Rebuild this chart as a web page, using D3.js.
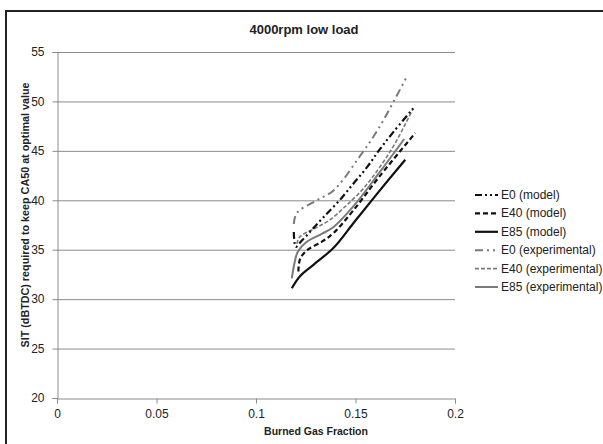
<!DOCTYPE html>
<html>
<head>
<meta charset="utf-8">
<script src="https://cdn.jsdelivr.net/npm/d3@7"></script>
<style>
  body { margin: 0; background: #fff; }
  text { font-family: "Liberation Sans", Arial, sans-serif; }
</style>
</head>
<body>
<div id="chart"></div>
<script>
// data
const seriesNames = ["E0 (model)", "E40 (model)", "E85 (model)", "E0 (experimental)", "E40 (experimental)", "E85 (experimental)"];

const bgfE0Model  = [0.1190, 0.1200, 0.1225, 0.1280, 0.1340, 0.1420, 0.1490, 0.1560, 0.1620, 0.1690, 0.1790];
const sitE0Model  = [36.8,   35.3,   35.8,   37.0,   38.3,   40.0,   41.7,   43.4,   45.1,   46.9,   49.3];

const bgfE40Model = [0.1213, 0.1222, 0.1260, 0.1330, 0.1390, 0.1490, 0.1620, 0.1800];
const sitE40Model = [32.8,   34.1,   35.0,   35.8,   36.7,   39.0,   42.4,   46.8];

const bgfE85Model = [0.1180, 0.1220, 0.1290, 0.1390, 0.1490, 0.1610, 0.1750];
const sitE85Model = [31.1,   32.3,   33.5,   35.2,   37.7,   40.7,   44.1];

const bgfE0Exp    = [0.1190, 0.1205, 0.1305, 0.1390, 0.1520, 0.1620, 0.1760];
const sitE0Exp    = [37.6,   38.7,   40.0,   41.0,   44.4,   47.4,   52.6];

const bgfE40Exp   = [0.1205, 0.1220, 0.1300, 0.1370, 0.1450, 0.1540, 0.1620, 0.1700, 0.1790];
const sitE40Exp   = [35.6,   36.3,   37.2,   38.0,   39.4,   41.2,   43.3,   45.8,   49.3];

const bgfE85Exp   = [0.1180, 0.1195, 0.1210, 0.1255, 0.1330, 0.1390, 0.1490, 0.1620, 0.1745];
const sitE85Exp   = [32.1,   33.8,   34.8,   35.8,   36.6,   37.3,   39.4,   42.8,   46.2];

const xTicks = [0, 0.05, 0.1, 0.15, 0.2];
const yTicks = [20, 25, 30, 35, 40, 45, 50, 55];

const width = 603, height = 444;
const margin = { left: 57, right: 148, top: 52, bottom: 46 };

const svg = d3.select("#chart").append("svg")
  .attr("width", width)
  .attr("height", height);

// frame (only top and left edges show in the picture)
svg.append("line").attr("x1", 6).attr("x2", 6).attr("y1", 10).attr("y2", height)
  .attr("stroke", "#222").attr("stroke-width", 2);
svg.append("line").attr("x1", 5).attr("x2", width).attr("y1", 11).attr("y2", 11)
  .attr("stroke", "#222").attr("stroke-width", 2);

const x = d3.scaleLinear().domain([0, 0.2]).range([margin.left, width - margin.right]);
const y = d3.scaleLinear().domain([20, 55]).range([height - margin.bottom, margin.top]);

// gridlines
svg.append("g")
  .selectAll("line")
  .data(yTicks.slice(1))
  .enter().append("line")
  .attr("x1", x(0)).attr("x2", x(0.2))
  .attr("y1", d => y(d) + 0.5).attr("y2", d => y(d) + 0.5)
  .attr("stroke", "#8c8c8c").attr("stroke-width", 1);

// axes
const xAxis = svg.append("g")
  .attr("transform", `translate(0,${y(20) + 0.5})`)
  .call(d3.axisBottom(x).tickValues(xTicks).tickFormat(d3.format("")).tickSize(5).tickPadding(6));
const yAxis = svg.append("g")
  .attr("transform", `translate(${x(0) + 0.5},0)`)
  .call(d3.axisLeft(y).tickValues(yTicks).tickSize(5).tickPadding(8));

[xAxis, yAxis].forEach(g => {
  g.select(".domain").attr("stroke", "#8c8c8c");
  g.selectAll(".tick line").attr("stroke", "#8c8c8c");
  g.selectAll(".tick text")
    .attr("fill", "#222")
    .style("font-family", '"Liberation Sans", Arial, sans-serif')
    .style("font-size", "12px");
});

// series
const styles = [
  { color: "#111", w: 2.2, dash: "7,3,2,3,2,3" },
  { color: "#111", w: 2.2, dash: "5,3" },
  { color: "#111", w: 2.2, dash: null },
  { color: "#7a7a7a", w: 2, dash: "8,4,2,4,2,4" },
  { color: "#7a7a7a", w: 1.6, dash: "4,2" },
  { color: "#7a7a7a", w: 2, dash: null }
];

const seriesData = [
  d3.zip(bgfE0Model, sitE0Model),
  d3.zip(bgfE40Model, sitE40Model),
  d3.zip(bgfE85Model, sitE85Model),
  d3.zip(bgfE0Exp, sitE0Exp),
  d3.zip(bgfE40Exp, sitE40Exp),
  d3.zip(bgfE85Exp, sitE85Exp)
];

const line = d3.line()
  .x(d => x(d[0]))
  .y(d => y(d[1]))
  .curve(d3.curveCatmullRom.alpha(0.5));

// draw experimental under model
[5, 4, 3, 2, 1, 0].forEach(i => {
  svg.append("path")
    .datum(seriesData[i])
    .attr("d", line)
    .attr("fill", "none")
    .attr("stroke", styles[i].color)
    .attr("stroke-width", styles[i].w)
    .attr("stroke-dasharray", styles[i].dash);
});

// legend
const legend = svg.append("g").attr("transform", "translate(475,195)");
seriesNames.forEach((name, i) => {
  const g = legend.append("g").attr("transform", `translate(0,${i * 18.4})`);
  g.append("line")
    .attr("x1", 0).attr("x2", 23)
    .attr("y1", 0).attr("y2", 0)
    .attr("stroke", styles[i].color)
    .attr("stroke-width", styles[i].w)
    .attr("stroke-dasharray", styles[i].dash);
  g.append("text")
    .attr("x", 26).attr("y", 4)
    .attr("font-size", 12)
    .attr("fill", "#222")
    .text(name);
});

// title and axis titles
svg.append("text")
  .attr("x", 304).attr("y", 34)
  .attr("text-anchor", "middle")
  .attr("font-size", 13)
  .attr("font-weight", "bold")
  .attr("fill", "#222")
  .text("4000rpm low load");

svg.append("text")
  .attr("x", 316).attr("y", 435)
  .attr("text-anchor", "middle")
  .attr("font-size", 10.5)
  .attr("font-weight", "bold")
  .attr("fill", "#222")
  .text("Burned Gas Fraction");

svg.append("text")
  .attr("transform", "translate(29,215) rotate(-90)")
  .attr("text-anchor", "middle")
  .attr("font-size", 10.5)
  .attr("font-weight", "bold")
  .attr("fill", "#222")
  .attr("textLength", 265)
  .attr("lengthAdjust", "spacingAndGlyphs")
  .text("SIT (dBTDC) required to keep CA50 at optimal value");
</script>
</body>
</html>
